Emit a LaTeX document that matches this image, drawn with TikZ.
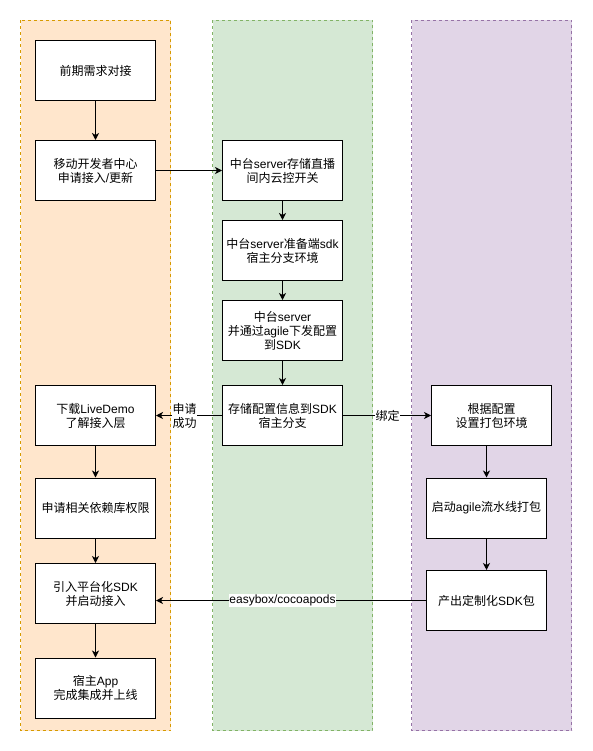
\documentclass[tikz,border=0pt]{standalone}
\usepackage{fontspec}
\setmainfont{Noto Sans CJK SC}
\newfontfamily\latfont{Liberation Sans}
\newcommand{\enw}[1]{{\latfont #1}}
\usetikzlibrary{arrows.meta}
\definecolor{orfill}{HTML}{FFE6CC}
\definecolor{ordraw}{HTML}{D79B00}
\definecolor{grfill}{HTML}{D5E8D4}
\definecolor{grdraw}{HTML}{82B366}
\definecolor{pufill}{HTML}{E1D5E7}
\definecolor{pudraw}{HTML}{9673A6}
\tikzset{
  lane/.style={line width=1pt, dash pattern=on 3pt off 3pt},
  box/.style={draw=black, fill=white, line width=1pt, minimum width=120pt, minimum height=60pt, inner sep=0pt, align=center, font=\fontsize{12}{14}\selectfont},
  arr/.style={-{Stealth[length=7pt,width=7pt,inset=2pt]}, line width=1pt},
  lbl/.style={fill=white, inner sep=0.5pt, font=\fontsize{12}{14}\selectfont}
}
\begin{document}
\begin{tikzpicture}[x=1pt,y=-1pt]
\useasboundingbox (0,0) rectangle (592,751);
% lanes
\draw[lane, fill=orfill, draw=ordraw] (20.5,20.5) rectangle (170.5,730.5);
\draw[lane, fill=grfill, draw=grdraw] (212.5,20.5) rectangle (372.5,730.5);
\draw[lane, fill=pufill, draw=pudraw] (411.5,20.5) rectangle (571.5,730.5);
% orange column
\node[box] (o1) at (95.5,70.5) {前期需求对接};
\node[box] (o2) at (95.5,170.5) {移动开发者中心\\申请接入\enw{/}更新};
\node[box] (o3) at (95.5,415.5) {下载\enw{LiveDemo}\\了解接入层};
\node[box] (o4) at (95.5,508) {申请相关依赖库权限};
\node[box] (o5) at (95.5,593.5) {引入平台化\enw{SDK}\\并启动接入};
\node[box] (o6) at (95.5,688) {宿主\enw{App}\\完成集成并上线};
% green column
\node[box] (g1) at (282.5,170.5) {中台\enw{server}存储直播\\间内云控开关};
\node[box] (g2) at (282.5,250.5) {中台\enw{server}准备端\enw{sdk}\\宿主分支环境};
\node[box] (g3) at (282.5,330.5) {中台\enw{server}\\并通过\enw{agile}下发配置\\到\enw{SDK}};
\node[box] (g4) at (282.5,415.5) {存储配置信息到\enw{SDK}\\宿主分支};
% purple column
\node[box] (p1) at (491.5,415.5) {根据配置\\设置打包环境};
\node[box] (p2) at (486.5,508) {启动\enw{agile}流水线打包};
\node[box] (p3) at (486.5,600.5) {产出定制化\enw{SDK}包};
% arrows
\draw[arr] (o1) -- (o2);
\draw[arr] (o2) -- (g1);
\draw[arr] (g1) -- (g2);
\draw[arr] (g2) -- (g3);
\draw[arr] (g3) -- (g4);
\draw[arr] (g4) -- (o3);
\node[lbl, anchor=west, align=left] (lab1) at (172,416) {申请\\成功};
\draw[arr] (g4) -- (p1);
\node[lbl] (lab2) at (387.5,415.5) {绑定};
\draw[arr] (o3) -- (o4);
\draw[arr] (o4) -- (o5);
\draw[arr] (o5) -- (o6);
\draw[arr] (p1.south -| p2.north) -- (p2.north);
\draw[arr] (p2) -- (p3);
\coordinate (o5in) at (o5.east |- p3.west);
\draw[arr] (p3.west) -- (o5in);
\node[lbl] (lab3) at (282.5,600.5) {\enw{easybox/cocoapods}};
\end{tikzpicture}
\end{document}
